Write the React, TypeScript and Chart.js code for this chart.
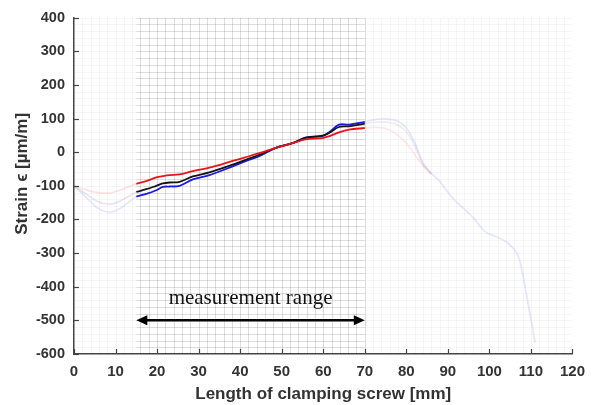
import React, { useEffect, useRef } from "react";
import { Chart, registerables } from "chart.js";

Chart.register(...registerables);

// x positions [mm]
const measX = [15, 17.4, 19.8, 21.4, 23, 25.4, 28.6, 32.6, 38.2, 41, 44.6, 48.6, 52.6, 55.8, 59.8, 61.5, 63.8, 66.2, 70];
const redMeas = [-94, -86, -75, -71, -68, -66, -56, -46, -26, -16, -3, 13, 27, 38, 42, 48, 59, 67, 72];
const blackMeas = [-118, -110, -100, -93, -90, -88, -72, -60, -37, -24, -8, 13, 27, 43, 49, 58, 75, 77, 85];
const blueMeas = [-132, -124, -113, -103, -102, -100, -81, -68, -42, -28, -12, 13, 27, 44, 48, 60, 82, 82, 90];

const leftX = [0, 3, 5, 7, 9, 11, 13, 15];
const redLeft = [-100, -112, -119, -122, -120, -113, -103, -94];
const blackLeft = [-100, -125, -142, -152, -154, -146, -132, -118];
const blueLeft = [-100, -135, -160, -174, -178, -168, -150, -132];

const blueRightX = [70, 72, 74, 76, 78, 80, 82, 84, 86, 88, 91, 94, 96, 99, 101.8, 103.5, 105, 107, 109, 111];
const blueRight = [90, 96, 99, 98, 92, 72, 30, -30, -62, -86, -134, -170, -193, -237, -252, -262, -276, -311, -429, -566];
const blackRightX = [70, 72, 74, 76, 78, 80, 82, 84, 86];
const blackRight = [85, 89, 90, 88, 81, 60, 20, -36, -64];
const redRightX = [70, 72, 74, 76, 78, 80, 82, 84, 86];
const redRight = [72, 74, 73, 66, 50, 28, -6, -40, -66];

const xTicks = [0, 10, 20, 30, 40, 50, 60, 70, 80, 90, 100, 110, 120];
const yTicks = [-600, -500, -400, -300, -200, -100, 0, 100, 200, 300, 400];

const rangeStart = 15;
const rangeEnd = 70;
const arrowY = -500;
const labelY = -435;
const rangeLabel = "measurement range";
const xTitle = "Length of clamping screw [mm]";
const yTitle = "Strain \u03F5 [\u00B5m/m]";

const pts = (xs: number[], ys: number[]) => xs.map((x, i) => ({ x, y: ys[i] }));

const gridPlugin = {
  id: "customGrid",
  beforeDatasetsDraw(chart: any) {
    const { ctx, chartArea: a, scales } = chart;
    const xs = scales.x;
    const ys = scales.y;
    ctx.save();
    ctx.lineWidth = 1;
    ctx.strokeStyle = "rgba(0,0,0,0.035)";
    for (let v = 2; v < 120; v += 2) {
      const px = Math.round(xs.getPixelForValue(v)) + 0.5;
      ctx.beginPath();
      ctx.moveTo(px, a.top);
      ctx.lineTo(px, a.bottom);
      ctx.stroke();
    }
    for (let v = -580; v <= 400; v += 20) {
      const py = Math.round(ys.getPixelForValue(v)) + 0.5;
      ctx.beginPath();
      ctx.moveTo(a.left, py);
      ctx.lineTo(a.right, py);
      ctx.stroke();
    }
    const x1 = xs.getPixelForValue(rangeStart);
    const x2 = xs.getPixelForValue(rangeEnd);
    ctx.strokeStyle = "rgba(0,0,0,0.10)";
    for (let v = 16; v <= 70; v += 2) {
      const px = Math.round(xs.getPixelForValue(v)) + 0.5;
      ctx.beginPath();
      ctx.moveTo(px, a.top);
      ctx.lineTo(px, a.bottom);
      ctx.stroke();
    }
    for (let v = -580; v <= 400; v += 20) {
      const py = Math.round(ys.getPixelForValue(v)) + 0.5;
      ctx.beginPath();
      ctx.moveTo(x1, py);
      ctx.lineTo(x2, py);
      ctx.stroke();
    }
    ctx.restore();
  },
  afterDatasetsDraw(chart: any) {
    const { ctx, chartArea: a, scales } = chart;
    const xs = scales.x;
    const ys = scales.y;
    ctx.save();
    ctx.strokeStyle = "#444";
    ctx.lineWidth = 1.2;
    xTicks.forEach((v) => {
      const px = Math.round(xs.getPixelForValue(v)) + 0.5;
      ctx.beginPath();
      ctx.moveTo(px, a.bottom);
      ctx.lineTo(px, a.bottom - 5);
      ctx.stroke();
    });
    yTicks.forEach((v) => {
      const py = Math.round(ys.getPixelForValue(v)) + 0.5;
      ctx.beginPath();
      ctx.moveTo(a.left, py);
      ctx.lineTo(a.left + 5, py);
      ctx.stroke();
    });
    const x1 = xs.getPixelForValue(rangeStart);
    const x2 = xs.getPixelForValue(rangeEnd);
    const ay = ys.getPixelForValue(arrowY);
    ctx.strokeStyle = "#000";
    ctx.fillStyle = "#000";
    ctx.lineWidth = 2.5;
    ctx.beginPath();
    ctx.moveTo(x1 + 6, ay);
    ctx.lineTo(x2 - 6, ay);
    ctx.stroke();
    ctx.beginPath();
    ctx.moveTo(x1, ay);
    ctx.lineTo(x1 + 11, ay - 5);
    ctx.lineTo(x1 + 11, ay + 5);
    ctx.closePath();
    ctx.fill();
    ctx.beginPath();
    ctx.moveTo(x2, ay);
    ctx.lineTo(x2 - 11, ay - 5);
    ctx.lineTo(x2 - 11, ay + 5);
    ctx.closePath();
    ctx.fill();
    ctx.font = '21px "Liberation Serif", "DejaVu Serif", serif';
    ctx.textAlign = "center";
    ctx.textBaseline = "middle";
    ctx.fillStyle = "#111";
    ctx.fillText(rangeLabel, (x1 + x2) / 2, ys.getPixelForValue(labelY));
    ctx.save();
    ctx.translate(22, (a.top + a.bottom) / 2 - 12);
    ctx.rotate(-Math.PI / 2);
    ctx.font = 'bold 17px "Liberation Sans", Arial, sans-serif';
    ctx.fillStyle = "#333";
    ctx.textAlign = "center";
    ctx.textBaseline = "middle";
    ctx.fillText(yTitle, 0, 0);
    ctx.restore();
    ctx.restore();
  },
};

export default function App() {
  const ref = useRef<HTMLCanvasElement | null>(null);
  useEffect(() => {
    if (!ref.current) return;
    const line = { borderWidth: 1.8, pointRadius: 0, tension: 0.35, fill: false };
    const chart = new Chart(ref.current, {
      type: "line",
      data: {
        datasets: [
          { ...line, data: pts(leftX, redLeft), borderColor: "rgba(255,60,60,0.14)" },
          { ...line, data: pts(leftX, blackLeft), borderColor: "rgba(60,60,110,0.12)" },
          { ...line, data: pts(leftX, blueLeft), borderColor: "rgba(60,60,255,0.12)" },
          { ...line, data: pts(redRightX, redRight), borderColor: "rgba(255,60,60,0.12)" },
          { ...line, data: pts(blackRightX, blackRight), borderColor: "rgba(60,60,110,0.09)" },
          { ...line, data: pts(blueRightX, blueRight), borderColor: "rgba(60,60,255,0.13)" },
          { ...line, data: pts(measX, redMeas), borderColor: "#e8141c" },
          { ...line, data: pts(measX, blackMeas), borderColor: "#151515" },
          { ...line, data: pts(measX, blueMeas), borderColor: "#1a1ae0" },
        ],
      },
      options: {
        responsive: false,
        animation: false,
        layout: { padding: { left: 0, top: 16, right: 20, bottom: 0 } },
        plugins: { legend: { display: false }, tooltip: { enabled: false } },
        scales: {
          x: {
            type: "linear",
            min: 0,
            max: 120,
            grid: { display: false, drawTicks: false },
            border: { display: true, color: "#444", width: 1.5 },
            afterBuildTicks: (s: any) => {
              s.ticks = xTicks.map((v) => ({ value: v }));
            },
            afterFit: (s: any) => {
              s.height = 51;
            },
            ticks: {
              padding: 9,
              color: "#333",
              font: { family: '"Liberation Sans", Arial, sans-serif', size: 15, weight: "bold" },
            },
            title: {
              display: true,
              text: xTitle,
              color: "#333",
              padding: { top: 2, bottom: 0 },
              font: { family: '"Liberation Sans", Arial, sans-serif', size: 17, weight: "bold" },
            },
          },
          y: {
            type: "linear",
            min: -600,
            max: 400,
            grid: { display: false, drawTicks: false },
            border: { display: true, color: "#444", width: 1.5 },
            afterBuildTicks: (s: any) => {
              s.ticks = yTicks.map((v) => ({ value: v }));
            },
            afterFit: (s: any) => {
              s.width = 74;
            },
            ticks: {
              padding: 9,
              color: "#333",
              font: { family: '"Liberation Sans", Arial, sans-serif', size: 14.5, weight: "bold" },
            },
          },
        },
      },
      plugins: [gridPlugin],
    });
    return () => chart.destroy();
  }, []);
  return (
    <div style={{ position: "fixed", left: 0, top: 0, width: 594, height: 405, background: "#fff" }}>
      <canvas ref={ref} width={594} height={405} />
    </div>
  );
}
